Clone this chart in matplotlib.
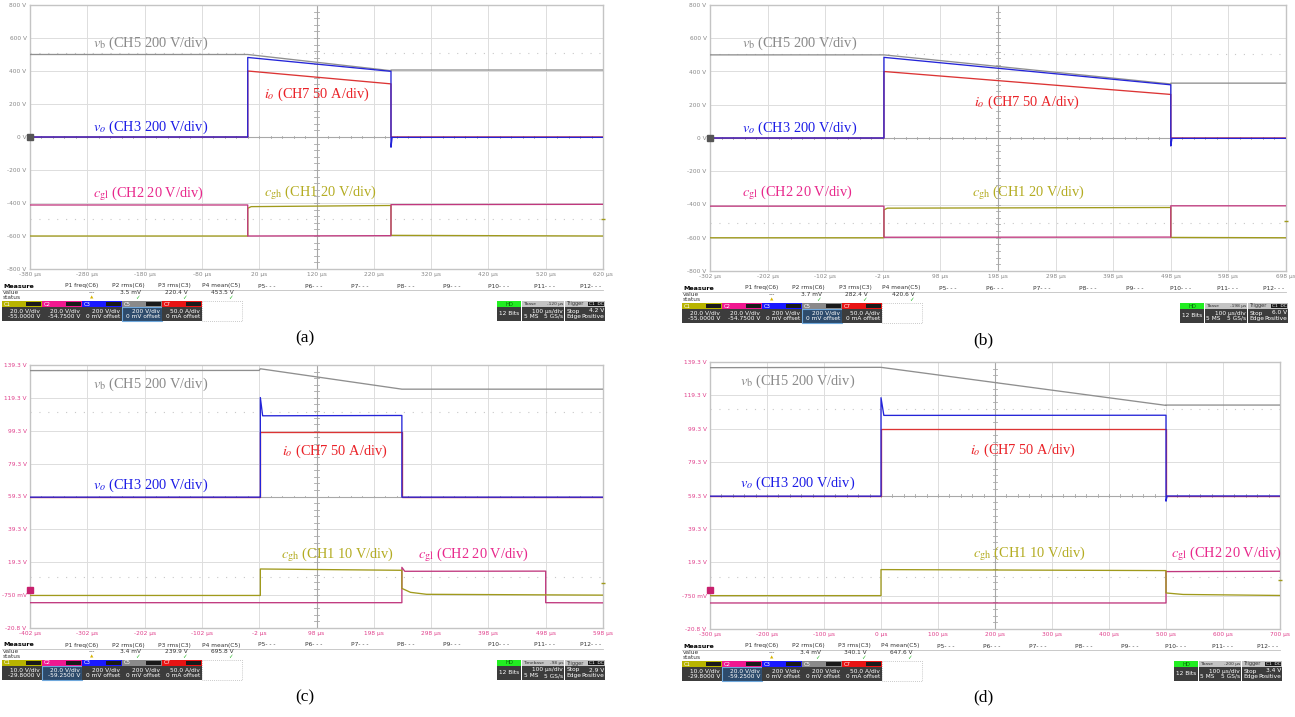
import matplotlib
matplotlib.use('Agg')
import matplotlib.pyplot as plt
from matplotlib.patches import Rectangle

plt.rcParams['mathtext.fontset'] = 'stix'
plt.rcParams['font.family'] = ['DejaVu Sans']

# ---------------- data ----------------
# panel (a): time in us, value in V (200 V/div screen)
A_T0 = -380
A_XLABELS = ['-380 µs', '-280 µs', '-180 µs', '-80 µs', '20 µs', '120 µs', '220 µs', '320 µs', '420 µs', '520 µs', '620 µs']
AB_YTICKS = [-800, -600, -400, -200, 0, 200, 400, 600, 800]
AB_YLABELS = ['-800 V', '-600 V', '-400 V', '-200 V', '0 V', '200 V', '400 V', '600 V', '800 V']
A_VB_T = [-380, 0, 250, 250, 620]
A_VB = [500, 500, 402, 406, 406]
A_VO_T = [-380, 0, 0, 250, 250, 252, 620]
A_VO = [0, 0, 482, 398, -62, -2, -2]
A_IO_T = [-380, 0, 0, 250, 250, 620]
A_IO = [0, 0, 400, 322, 0, 0]
A_CGL_T = [-380, 0, 0, 250, 250, 620]
A_CGL = [-412, -412, -600, -598, -410, -408]
A_CGH_T = [-380, 0, 0, 6, 250, 250, 620]
A_CGH = [-600, -600, -432, -422, -415, -596, -600]

# panel (b)
B_T0 = -302
B_XLABELS = ['-302 µs', '-202 µs', '-102 µs', '-2 µs', '98 µs', '198 µs', '298 µs', '398 µs', '498 µs', '598 µs', '698 µs']
B_VB_T = [-302, 0, 498, 498, 698]
B_VB = [500, 500, 325, 330, 330]
B_VO_T = [-302, 0, 0, 498, 498, 500, 698]
B_VO = [0, 0, 485, 320, -48, -2, -2]
B_IO_T = [-302, 0, 0, 498, 498, 698]
B_IO = [0, 0, 400, 262, 0, 0]
B_CGL_T = [-302, 0, 0, 498, 498, 698]
B_CGL = [-410, -410, -597, -596, -408, -408]
B_CGH_T = [-302, 0, 0, 6, 498, 498, 698]
B_CGH = [-600, -600, -432, -422, -418, -598, -600]

# panel (c): screen values
C_T0 = -402
C_XLABELS = ['-402 µs', '-302 µs', '-202 µs', '-102 µs', '-2 µs', '98 µs', '198 µs', '298 µs', '398 µs', '498 µs', '598 µs']
CD_YTICKS = [-20.7, -0.7, 19.3, 39.3, 59.3, 79.3, 99.3, 119.3, 139.3]
CD_YLABELS = ['-20.8 V', '-750 mV', '19.3 V', '39.3 V', '59.3 V', '79.3 V', '99.3 V', '119.3 V', '139.3 V']
C_VB_T = [-402, -2, 0, 247, 598]
C_VB = [135.9, 136.0, 137.0, 124.6, 124.6]
C_VO_T = [-402, 0, 0, 4, 247, 247, 598]
C_VO = [58.9, 58.9, 119.5, 108.4, 108.6, 58.9, 58.9]
C_IO_T = [-402, 0, 0, 247, 247, 598]
C_IO = [59.1, 59.1, 98.7, 98.7, 59.1, 59.1]
C_CGH_T = [-402, 0, 0, 247, 247, 262, 290, 598]
C_CGH = [-0.9, -0.9, 15.2, 14.4, 3.4, 1.0, -0.2, -0.7]
C_CGL_T = [-402, 247, 247, 252, 498, 498, 598]
C_CGL = [-5.3, -5.3, 16.2, 13.8, 13.9, -5.3, -5.4]

# panel (d)
D_T0 = -300
D_XLABELS = ['-300 µs', '-200 µs', '-100 µs', '0 µs', '100 µs', '200 µs', '300 µs', '400 µs', '500 µs', '600 µs', '700 µs']
D_VB_T = [-300, 0, 500, 500, 700]
D_VB = [135.9, 136.1, 113.3, 113.5, 113.5]
D_VO_T = [-300, 0, 0, 5, 500, 500, 502, 700]
D_VO = [58.9, 58.9, 117.9, 107.3, 107.4, 55.9, 59.0, 59.0]
D_IO_T = [-300, 0, 0, 500, 500, 700]
D_IO = [59.0, 59.0, 98.9, 98.9, 59.0, 59.0]
D_CGH_T = [-300, 0, 0, 500, 500, 530, 700]
D_CGH = [-0.7, -0.7, 14.9, 14.3, 0.9, 0.0, -0.6]
D_CGL_T = [-300, 500, 500, 700]
D_CGL = [-5.1, -5.1, 13.7, 13.9]

# measurement bar texts
MEAS_HEADERS = ['P1 freq(C6)', 'P2 rms(C6)', 'P3 rms(C3)', 'P4 mean(C5)', 'P5- - -', 'P6- - -',
                'P7- - -', 'P8- - -', 'P9- - -', 'P10- - -', 'P11- - -', 'P12- - -']
A_MEAS = ['---', '3.5 mV', '220.4 V', '453.5 V']
B_MEAS = ['---', '3.7 mV', '282.4 V', '420.6 V']
C_MEAS = ['---', '3.4 mV', '239.9 V', '695.8 V']
D_MEAS = ['---', '3.4 mV', '340.1 V', '647.6 V']
CH_NAMES = ['C1', 'C2', 'C3', 'C5', 'C7']
AB_CH_LINES = [('20.0 V/div', '-55.0000 V'), ('20.0 V/div', '-54.7500 V'), ('200 V/div', '0 mV offset'),
               ('200 V/div', '0 mV offset'), ('50.0 A/div', '0 mA offset')]
CD_CH_LINES = [('10.0 V/div', '-29.8000 V'), ('20.0 V/div', '-59.2500 V'), ('200 V/div', '0 mV offset'),
               ('200 V/div', '0 mV offset'), ('50.0 A/div', '0 mA offset')]
TBASE = [('Tbase', '-120 µs', '4.2 V'), ('Tbase', '-198 µs', '6.0 V'),
         ('Timebase', '-98 µs', '2.9 V'), ('Tbase', '-200 µs', '3.4 V')]

# ---------------- styles ----------------
COL_VB = '#8f8f8f'
COL_VO = '#2424d8'
COL_IO = '#dc3434'
COL_CGL = '#c0387e'
COL_CGH = '#a09a1c'
TXT_VB = '#8a8a8a'
TXT_VO = '#1c1ce6'
TXT_IO = '#ea2228'
TXT_CGL = '#e8288c'
TXT_CGH = '#b4ac22'
CH_COLORS = ['#b8b400', '#f01890', '#1a1aff', '#8a8a8a', '#e81414']

W, H = 1295, 717
fig = plt.figure(figsize=(12.95, 7.17), dpi=100)
ov = fig.add_axes([0, 0, 1, 1])
ov.set_xlim(0, W)
ov.set_ylim(H, 0)
ov.axis('off')

SERIF = 'Liberation Serif'


def rect_px(xl, xr, yt, yb):
    return [xl / W, 1 - yb / H, (xr - xl) / W, (yb - yt) / H]


def panel(xl, xr, yt, yb, t0, xlabels, yticks, ylabels, tickcol, traces, labels, dots, lmark, rmark):
    ax = fig.add_axes(rect_px(xl, xr, yt, yb))
    ax.set_xlim(t0, t0 + 1000)
    ax.set_ylim(yticks[0], yticks[-1])
    ax.set_xticks([t0 + 100 * k for k in range(11)], xlabels)
    ax.set_yticks(yticks, ylabels)
    ax.tick_params(length=0, pad=2.5, labelsize=4.2, colors=tickcol)
    for s in ax.spines.values():
        s.set_color('#c4c4c4')
        s.set_linewidth(1.0)
    ax.grid(True, color='#dddddd', lw=0.7)
    ax.set_axisbelow(True)
    xc = t0 + 500
    ymid = yticks[4]
    dy = yticks[1] - yticks[0]
    ax.axvline(xc, color='#a8a8a8', lw=0.8, zorder=1)
    ax.axhline(ymid, color='#a8a8a8', lw=0.8, zorder=1)
    for k in range(41):
        yy = yticks[0] + k * dy / 5
        ax.plot([xc - 4, xc + 4], [yy, yy], color='#a8a8a8', lw=0.6, zorder=1)
    for k in range(51):
        xx = t0 + k * 20
        ax.plot([xx, xx], [ymid - dy * 0.03, ymid + dy * 0.03], color='#a8a8a8', lw=0.6, zorder=1)
    for d in dots:
        ax.axhline(d, color='#c8c8c8', lw=0.8, ls=(0, (1, 7)), zorder=1)
    for t, v, c in traces:
        ax.plot(t, v, color=c, lw=0.95, zorder=3)
    for x, y, s, c in labels:
        ax.text(x, y, s, color=c, fontsize=10.4, va='center', ha='left', family=SERIF, zorder=5)
    ax.plot([t0], [lmark[0]], marker='s', ms=4, color=lmark[1], clip_on=False, zorder=6)
    ax.plot([t0 + 1000], [rmark], marker='_', ms=3, mew=1, color=COL_CGH, clip_on=False, zorder=6)
    return ax


def meas_bar(xl, xr, yb, values, ch_lines, sel, tb):
    x0 = xl - 28
    fs = 4.2
    ov.text(x0 + 1, yb + 17, 'Measure', fontsize=4.6, fontweight='bold', va='center', ha='left')
    ov.plot([x0, xr], [yb + 20.5, yb + 20.5], color='#c0c0c0', lw=0.6)
    ov.text(x0 + 1, yb + 23.5, 'value', fontsize=fs, va='center', ha='left', color='#333333')
    ov.text(x0 + 1, yb + 28.5, 'status', fontsize=fs, va='center', ha='left', color='#333333')
    c_first = x0 + 80
    c_last = xr - 12
    step = (c_last - c_first) / 11
    for i, h in enumerate(MEAS_HEADERS):
        ov.text(c_first + i * step, yb + 17, h, fontsize=fs, ha='center', va='center', color='#333333')
    for i, v in enumerate(values):
        cx = c_first + i * step + 13
        ov.text(cx, yb + 23.5, v, fontsize=fs, ha='right', va='center', color='#333333')
        if i == 0:
            ov.text(cx - 2, yb + 28.5, '▲', fontsize=3.2, ha='right', va='center', color='#d8b400')
        else:
            ov.text(cx - 1, yb + 28.5, '✓', fontsize=4.0, ha='right', va='center', color='#22b822')
    bt = yb + 32
    for k in range(5):
        x = x0 + 40 * k
        ov.add_patch(Rectangle((x, bt), 39.5, 6, color=CH_COLORS[k], lw=0))
        ov.add_patch(Rectangle((x + 24, bt + 0.7), 15, 4.6, color='#1a1a1a', lw=0))
        ov.text(x + 1.5, bt + 3, CH_NAMES[k], fontsize=3.8, color='white', va='center', ha='left')
        if k == sel:
            ov.add_patch(Rectangle((x, bt + 6), 39.5, 13.5, facecolor='#2d4b6c', edgecolor='#6fa8dc', lw=0.8))
        else:
            ov.add_patch(Rectangle((x, bt + 6), 39.5, 13.5, color='#3c3c3c', lw=0))
        ov.text(x + 38, bt + 10, ch_lines[k][0], fontsize=fs, color='white', va='center', ha='right')
        ov.text(x + 38, bt + 15.5, ch_lines[k][1], fontsize=fs, color='white', va='center', ha='right')
    ov.add_patch(Rectangle((x0 + 200, bt), 39.5, 19.5, fill=False, edgecolor='#b8b8b8', lw=0.6, ls=(0, (1, 1.5))))
    # right side group
    hx = xr - 106
    ov.add_patch(Rectangle((hx, bt), 24, 6, color='#22ee22', lw=0))
    ov.text(hx + 12, bt + 3, 'HD', fontsize=3.8, color='#0a6a0a', ha='center', va='center')
    ov.add_patch(Rectangle((hx, bt + 6), 24, 13.5, color='#3c3c3c', lw=0))
    ov.text(hx + 12, bt + 12.5, '12 Bits', fontsize=fs, color='white', ha='center', va='center')
    tx = hx + 25
    ov.add_patch(Rectangle((tx, bt), 42, 6, color='#c4c4c4', lw=0))
    ov.text(tx + 1, bt + 3, tb[0], fontsize=3.2, color='#333333', ha='left', va='center')
    ov.text(tx + 41.5, bt + 3, tb[1], fontsize=3.2, color='#333333', ha='right', va='center')
    ov.add_patch(Rectangle((tx, bt + 6), 42, 13.5, color='#3c3c3c', lw=0))
    ov.text(tx + 41, bt + 10, '100 µs/div', fontsize=fs, color='white', ha='right', va='center')
    ov.text(tx + 1.5, bt + 15.5, '5 MS', fontsize=fs, color='white', ha='left', va='center')
    ov.text(tx + 41, bt + 15.5, '5 GS/s', fontsize=fs, color='white', ha='right', va='center')
    gx = tx + 43
    ov.add_patch(Rectangle((gx, bt), 40, 6, color='#c4c4c4', lw=0))
    ov.text(gx + 1.5, bt + 3, 'Trigger', fontsize=3.6, color='#333333', ha='left', va='center')
    ov.add_patch(Rectangle((gx + 23, bt + 0.7), 16, 4.6, color='#1a1a1a', lw=0))
    ov.text(gx + 31, bt + 3, 'C1  DC', fontsize=3.2, color='white', ha='center', va='center')
    ov.add_patch(Rectangle((gx, bt + 6), 40, 13.5, color='#3c3c3c', lw=0))
    ov.text(gx + 1.5, bt + 10, 'Stop', fontsize=fs, color='white', ha='left', va='center')
    ov.text(gx + 39, bt + 10, tb[2], fontsize=fs, color='white', ha='right', va='center')
    ov.text(gx + 1.5, bt + 15.5, 'Edge', fontsize=fs, color='white', ha='left', va='center')
    ov.text(gx + 39, bt + 15.5, 'Positive', fontsize=fs, color='white', ha='right', va='center')


L_VB = r'$v_{\mathrm{b}}$ (CH5 200 V/div)'
L_VO = r'$v_{o}$ (CH3 200 V/div)'
L_IO = r'$i_{o}$ (CH7 50 A/div)'
L_CGL = r'$c_{\mathrm{gl}}$ (CH2 20 V/div)'
L_CGH20 = r'$c_{\mathrm{gh}}$ (CH1 20 V/div)'
L_CGH10 = r'$c_{\mathrm{gh}}$ (CH1 10 V/div)'

# (a)
panel(30, 603, 5, 269, A_T0, A_XLABELS, AB_YTICKS, AB_YLABELS, '#888888',
      [(A_VB_T, A_VB, COL_VB), (A_CGH_T, A_CGH, COL_CGH), (A_CGL_T, A_CGL, COL_CGL),
       (A_IO_T, A_IO, COL_IO), (A_VO_T, A_VO, COL_VO)],
      [(-270, 566, L_VB, TXT_VB), (29, 258, L_IO, TXT_IO), (-270, 56, L_VO, TXT_VO),
       (-270, -342, L_CGL, TXT_CGL), (29, -338, L_CGH20, TXT_CGH)],
      [510, -500], (0, '#555555'), -500)
meas_bar(30, 603, 269, A_MEAS, AB_CH_LINES, 3, TBASE[0])

# (b)
panel(710, 1286, 5, 271, B_T0, B_XLABELS, AB_YTICKS, AB_YLABELS, '#888888',
      [(B_VB_T, B_VB, COL_VB), (B_CGH_T, B_CGH, COL_CGH), (B_CGL_T, B_CGL, COL_CGL),
       (B_IO_T, B_IO, COL_IO), (B_VO_T, B_VO, COL_VO)],
      [(-246, 570, L_VB, TXT_VB), (156, 214, L_IO, TXT_IO), (-246, 61, L_VO, TXT_VO),
       (-246, -331, L_CGL, TXT_CGL), (152, -331, L_CGH20, TXT_CGH)],
      [505, -510], (0, '#555555'), -500)
meas_bar(710, 1286, 271, B_MEAS, AB_CH_LINES, 3, TBASE[1])

# (c)
panel(30, 603, 365, 628, C_T0, C_XLABELS, CD_YTICKS, CD_YLABELS, '#e0408c',
      [(C_VB_T, C_VB, COL_VB), (C_CGL_T, C_CGL, COL_CGL), (C_CGH_T, C_CGH, COL_CGH),
       (C_IO_T, C_IO, COL_IO), (C_VO_T, C_VO, COL_VO)],
      [(-292, 127.8, L_VB, TXT_VB), (38, 86.6, L_IO, TXT_IO), (-292, 66.1, L_VO, TXT_VO),
       (36, 24.0, L_CGH10, TXT_CGH), (276, 24.0, L_CGL, TXT_CGL)],
      [110.5, 10.6], (2.5, '#c8206e'), 6.6)
meas_bar(30, 603, 628, C_MEAS, CD_CH_LINES, 1, TBASE[2])

# (d)
panel(710, 1280, 362, 629, D_T0, D_XLABELS, CD_YTICKS, CD_YLABELS, '#e0408c',
      [(D_VB_T, D_VB, COL_VB), (D_CGL_T, D_CGL, COL_CGL), (D_CGH_T, D_CGH, COL_CGH),
       (D_IO_T, D_IO, COL_IO), (D_VO_T, D_VO, COL_VO)],
      [(-248, 127.7, L_VB, TXT_VB), (156, 86.5, L_IO, TXT_IO), (-248, 66.8, L_VO, TXT_VO),
       (161, 24.3, L_CGH10, TXT_CGH), (508, 24.3, L_CGL, TXT_CGL)],
      [111.3, 10.7], (2.5, '#c8206e'), 8.7)
meas_bar(710, 1280, 629, D_MEAS, CD_CH_LINES, 1, TBASE[3])

for x, y, s in [(305, 338, '(a)'), (983, 340, '(b)'), (305, 697, '(c)'), (983, 697, '(d)')]:
    ov.text(x, y, s, fontsize=12.5, family=SERIF, ha='center', va='center', color='black')

fig.savefig('out.png', dpi=100)
